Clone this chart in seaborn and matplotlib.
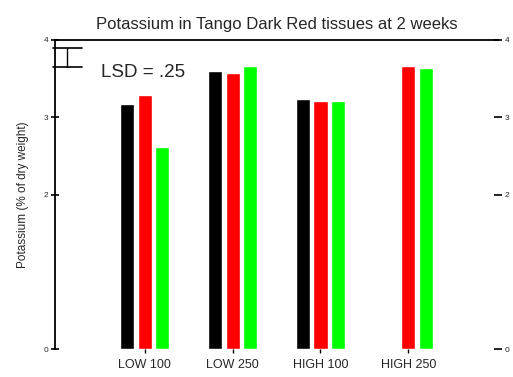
import pandas as pd
import seaborn as sns
import matplotlib.pyplot as plt

# potassium by treatment, three sampled tissues per treatment
treatments = ['LOW 100', 'LOW 250', 'HIGH 100', 'HIGH 250']
tissues = ['A', 'B', 'C']
tissue_a = [3.17, 3.60, 3.23, None]
tissue_b = [3.29, 3.57, 3.21, 3.66]
tissue_c = [2.62, 3.66, 3.21, 3.64]
lsd = 0.25
lsd_top = 3.9

yticks = [0, 2, 3, 4]
ytick_labels = ['0', '2', '3', '4']

rows = []
for t, a, b, c in zip(treatments, tissue_a, tissue_b, tissue_c):
    for tis, v in zip(tissues, [a, b, c]):
        if v is not None:
            rows.append({'Treatment': t, 'Tissue': tis, 'K': v})
df = pd.DataFrame(rows)

sns.set_style('white')
plt.rcParams['font.family'] = ['Liberation Sans', 'DejaVu Sans']

fig = plt.figure(figsize=(5.13, 3.77), dpi=100)
ax = fig.add_axes([0.107, 0.074, 0.864, 0.820])

sns.barplot(data=df, x='Treatment', y='K', hue='Tissue', order=treatments,
            hue_order=tissues, palette=['#000000', '#ff0000', '#00ff00'],
            width=0.6, gap=0.2, saturation=1, legend=False, ax=ax)

ax.set_xlim(-1.02, 4.02)
ax.set_ylim(0, 4)

# LSD bar
ax.plot([-0.88, -0.88], [lsd_top - lsd, lsd_top], color='black', lw=1)
ax.plot([-1.04, -0.71], [lsd_top, lsd_top], color='black', lw=1.2, clip_on=False)
ax.plot([-1.04, -0.71], [lsd_top - lsd, lsd_top - lsd], color='black', lw=1.2, clip_on=False)
ax.text(-0.5, 3.58, 'LSD = .25', fontsize=13.5, va='center', ha='left')

for s in ['bottom', 'right']:
    ax.spines[s].set_visible(False)
for s in ['left', 'top']:
    ax.spines[s].set_color('black')
    ax.spines[s].set_linewidth(1.3)

ax.set_yticks(yticks)
ax.set_yticklabels(ytick_labels, fontsize=6)
ax.tick_params(axis='y', direction='inout', length=6, width=1.2, left=True,
               right=True, labelright=True, color='black', pad=2)
ax.tick_params(axis='x', direction='out', length=3, width=1, bottom=True,
               labelsize=9, pad=4, color='black')
ax.set_xlabel('')
ax.set_ylabel('Potassium (% of dry weight)', fontsize=8.5, labelpad=10)
ax.set_title('Potassium in Tango Dark Red tissues at 2 weeks', fontsize=12, pad=8)

plt.savefig('out.png', dpi=100)
